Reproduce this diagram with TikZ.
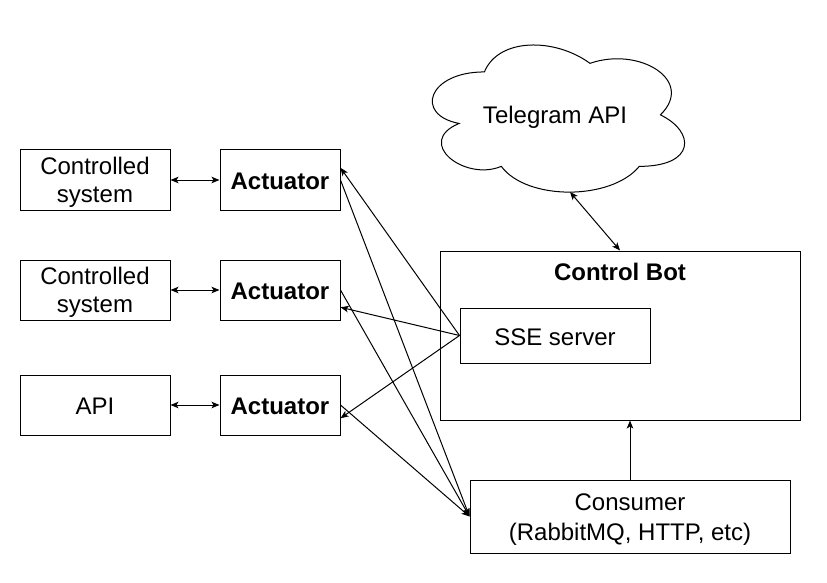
\documentclass[tikz,border=0pt]{standalone}
\usepackage{fontspec}
\setmainfont{Liberation Sans}
\usetikzlibrary{arrows.meta,calc}
\tikzset{
  box/.style={draw=black, line width=1pt, fill=white, inner sep=0pt},
  lbl/.style={align=center, inner sep=0pt, font=\fontsize{24}{28}\selectfont},
  blbl/.style={align=center, inner sep=0pt, font=\fontsize{24}{28}\selectfont\bfseries},
  arr/.style={line width=1pt, -{Stealth[length=8pt,width=6.5pt,inset=2pt]}},
  darr/.style={line width=1pt, {Stealth[length=8pt,width=6.5pt,inset=2pt]}-{Stealth[length=8pt,width=6.5pt,inset=2pt]}}
}
\begin{document}
\begin{tikzpicture}[x=1pt,y=-1pt]
\useasboundingbox (0,0) rectangle (827,583);
% cloud
\begin{scope}[shift={(414pt,-29pt)}, x=281.6pt, y=-171.7pt]
\draw[line width=1pt, fill=white] (0.25,0.25) .. controls (0.05,0.25) and (0,0.5) .. (0.16,0.55)
  .. controls (0,0.66) and (0.18,0.89) .. (0.31,0.8)
  .. controls (0.4,1) and (0.7,1) .. (0.8,0.8)
  .. controls (1,0.8) and (1,0.6) .. (0.875,0.5)
  .. controls (1,0.3) and (0.8,0.1) .. (0.625,0.2)
  .. controls (0.5,0.05) and (0.3,0.05) .. (0.25,0.25) -- cycle;
\end{scope}
\node[lbl] (tg) at (555,117) {Telegram API};
\coordinate (tgb) at (570,192);
% left column
\node[box, minimum width=150pt, minimum height=60pt,
  label={[lbl,yshift=-2pt]center:{Controlled\\system}}] (cs1) at (95,180) {};
\node[box, minimum width=150pt, minimum height=60pt,
  label={[lbl,yshift=-2pt]center:{Controlled\\system}}] (cs2) at (95,290) {};
\node[box, minimum width=150pt, minimum height=60pt,
  label={[lbl,yshift=-1pt]center:API}] (api) at (95,405) {};
% actuators
\node[box, minimum width=120pt, minimum height=60pt,
  label={[blbl,yshift=-1pt]center:Actuator}] (a1) at (280,180) {};
\node[box, minimum width=120pt, minimum height=60pt,
  label={[blbl,yshift=-1pt]center:Actuator}] (a2) at (280,290) {};
\node[box, minimum width=120pt, minimum height=60pt,
  label={[blbl,yshift=-1pt]center:Actuator}] (a3) at (280,405) {};
% control bot
\node[box, minimum width=360pt, minimum height=169pt] (bot) at (620,335.5) {};
\node[blbl] (bott) at (620,272) {Control Bot};
\node[box, minimum width=190pt, minimum height=55pt,
  label={[lbl,yshift=-1.5pt]center:SSE server}] (sse) at (555,335.5) {};
\node[box, minimum width=320pt, minimum height=73pt,
  label={[lbl,yshift=-3.5pt,font=\fontsize{24}{30}\selectfont]center:{Consumer\\(RabbitMQ, HTTP, etc)}}] (cons) at (630,516.5) {};
% target points
\coordinate (a1t) at ($(a1.north east)!0.3!(a1.south east)$);
\coordinate (a2t) at ($(a2.north east)!0.783!(a2.south east)$);
\coordinate (a3t) at ($(a3.north east)!0.717!(a3.south east)$);
% connectors
\draw[darr] (cs1.east) -- (a1.west);
\draw[darr] (cs2.east) -- (a2.west);
\draw[darr] (api.east) -- (a3.west);
\draw[arr] (sse.west) -- (a1t);
\draw[arr] (sse.west) -- (a2t);
\draw[arr] (sse.west) -- (a3t);
\draw[arr] (a1.east) -- (cons.west);
\draw[arr] (a2.east) -- (cons.west);
\draw[arr] (a3.east) -- (cons.west);
\draw[arr] (cons.north) -- (cons.north |- bot.south);
\draw[darr] (tgb) -- (bot.north);
\end{tikzpicture}
\end{document}
